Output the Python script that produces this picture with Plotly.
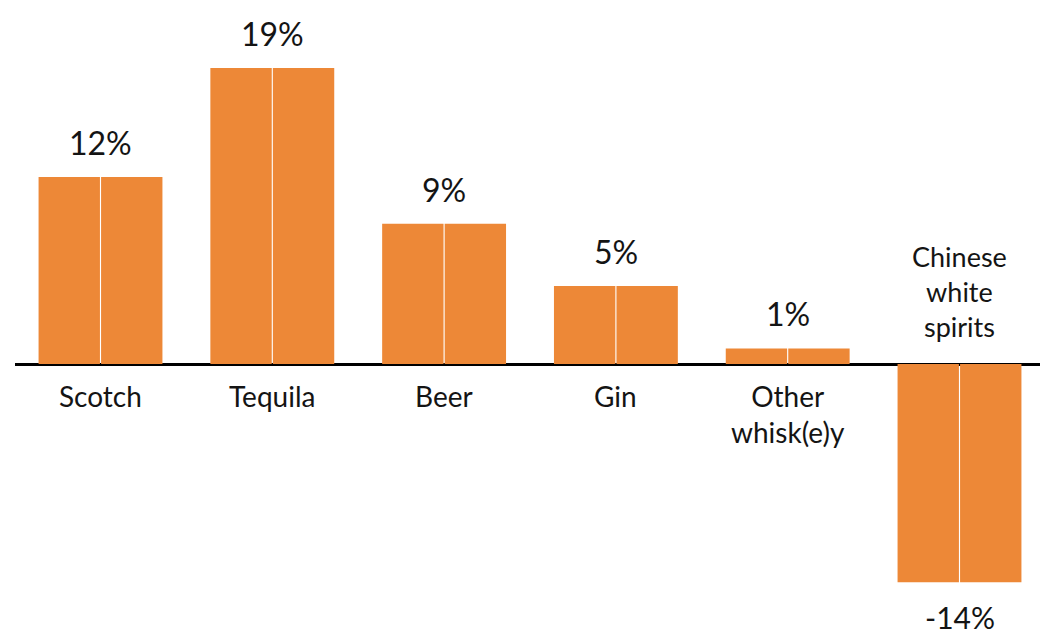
import plotly.graph_objects as go

categories = ["Scotch", "Tequila", "Beer", "Gin", "Other<br>whisk(e)y", "Chinese<br>white<br>spirits"]
values = [12, 19, 9, 5, 1, -14]
value_labels = ["12%", "19%", "9%", "5%", "1%", "-14%"]

BAR = "#ED8837"
TXT = "#141414"
FONT = "Lato"
VAL_SIZE = 32
CAT_SIZE = 28

fig = go.Figure()
for _ in range(2):
    fig.add_trace(go.Bar(x=categories, y=values, marker=dict(color=BAR, line=dict(width=0)),
                         showlegend=False, hoverinfo="skip"))

for c, v, lab in zip(categories, values, value_labels):
    if v >= 0:
        fig.add_annotation(x=c, y=v, text=lab, showarrow=False, yanchor="bottom", yshift=13,
                           font=dict(family=FONT, size=VAL_SIZE, color=TXT))
        fig.add_annotation(x=c, y=0, text=c, showarrow=False, yanchor="top", yshift=-13,
                           font=dict(family=FONT, size=CAT_SIZE, color=TXT))
    else:
        fig.add_annotation(x=c, y=v, text=lab, showarrow=False, yanchor="top", yshift=-15,
                           font=dict(family=FONT, size=30, color=TXT))
        fig.add_annotation(x=c, y=0, text=c, showarrow=False, yanchor="middle", yshift=73,
                           font=dict(family=FONT, size=CAT_SIZE - 1, color=TXT))

fig.update_layout(
    width=1040, height=635,
    margin=dict(l=15, r=0, t=0, b=0),
    paper_bgcolor="white", plot_bgcolor="white",
    barmode="group", bargap=0.2724, bargroupgap=0.018,
    xaxis=dict(type="category", range=[-0.4977, 5.4686], showticklabels=False,
               showgrid=False, zeroline=False, showline=False, ticks=""),
    yaxis=dict(range=[-17.39, 23.36], showticklabels=False, showgrid=False,
               zeroline=True, zerolinecolor="black", zerolinewidth=2.5, showline=False, ticks=""),
)

fig.write_html("out.html", config={"displayModeBar": False},
               post_script="document.body.style.margin='0';document.body.style.padding='0';")
